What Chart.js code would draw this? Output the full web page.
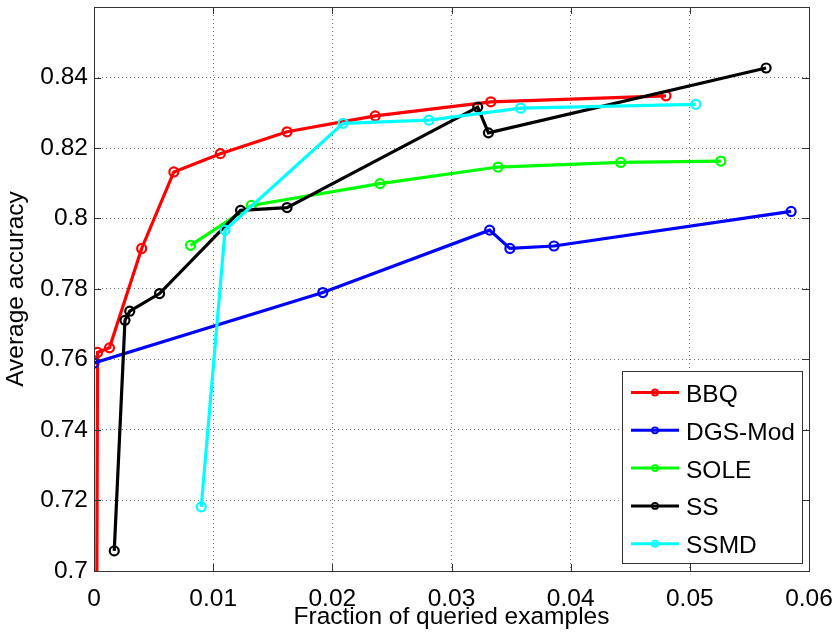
<!DOCTYPE html>
<html>
<head>
<meta charset="utf-8">
<script src="https://cdn.jsdelivr.net/npm/chart.js@4.4.1/dist/chart.umd.min.js"></script>
<style>
    html, body { margin: 0; padding: 0; background: #ffffff; }
    canvas { display: block; }
</style>
</head>
<body>
<canvas id="accuracy-graph" width="836" height="640"></canvas>
<script>
// series (x = fraction of queried examples, y = average accuracy)
const seriesNames = ["BBQ", "DGS-Mod", "SOLE", "SS", "SSMD"];
const seriesColors = ["#ff0000", "#0000ff", "#00ff00", "#000000", "#00ffff"];

const bbqX = [0.0002, 0.0003, 0.0013, 0.0040, 0.0067, 0.0106, 0.0162, 0.0236, 0.0333, 0.0480];
const bbqY = [0.660, 0.7620, 0.7633, 0.7915, 0.8132, 0.8184, 0.8246, 0.8291, 0.8331, 0.8348];

const dgsX = [0.0000, 0.0192, 0.0332, 0.0349, 0.0386, 0.0585];
const dgsY = [0.7590, 0.7790, 0.7967, 0.7915, 0.7922, 0.8020];

const soleX = [0.0081, 0.0132, 0.0240, 0.0339, 0.0442, 0.0526];
const soleY = [0.7924, 0.8037, 0.8099, 0.8146, 0.8159, 0.8163];

const ssX = [0.0017, 0.0026, 0.0030, 0.0055, 0.0123, 0.0162, 0.0322, 0.0331, 0.0564];
const ssY = [0.7057, 0.7711, 0.7737, 0.7787, 0.8023, 0.8031, 0.8316, 0.8243, 0.8427];

const ssmdX = [0.0090, 0.0110, 0.0209, 0.0281, 0.0358, 0.0505];
const ssmdY = [0.7182, 0.7967, 0.8270, 0.8279, 0.8313, 0.8324];

const xTicks = [0, 0.01, 0.02, 0.03, 0.04, 0.05, 0.06];
const yTicks = [0.7, 0.72, 0.74, 0.76, 0.78, 0.8, 0.82, 0.84];

const FONT = "'Liberation Sans', Arial, Helvetica, sans-serif";
const FONT_SIZE = 24.5;

function toPoints(xs, ys) {
    return xs.map((x, i) => ({ x: x, y: ys[i] }));
}

const allX = [bbqX, dgsX, soleX, ssX, ssmdX];
const allY = [bbqY, dgsY, soleY, ssY, ssmdY];

const datasets = seriesNames.map((name, i) => ({
    label: name,
    data: toPoints(allX[i], allY[i]),
    borderColor: seriesColors[i],
    borderWidth: 3.2,
    showLine: true,
    tension: 0,
    pointStyle: "circle",
    pointRadius: 4.5,
    pointBorderWidth: 2.2,
    pointBorderColor: seriesColors[i],
    pointBackgroundColor: "rgba(0,0,0,0)",
    order: seriesNames.length - 1 - i, // later series on top, like matlab
}));

// matlab style box with inward ticks
const boxPlugin = {
    id: "matlabBox",
    afterDatasetsDraw(chart) {
        const ctx = chart.ctx;
        const area = chart.chartArea;
        const xs = chart.scales.x;
        const ys = chart.scales.y;
        const tl = 7;
        ctx.save();
        ctx.strokeStyle = "#333333";
        ctx.lineWidth = 1;
        ctx.beginPath();
        xTicks.forEach((v) => {
            const px = Math.round(xs.getPixelForValue(v)) + 0.5;
            ctx.moveTo(px, area.bottom);
            ctx.lineTo(px, area.bottom - tl);
            ctx.moveTo(px, area.top);
            ctx.lineTo(px, area.top + tl);
        });
        yTicks.forEach((v) => {
            const py = Math.round(ys.getPixelForValue(v)) + 0.5;
            ctx.moveTo(area.left, py);
            ctx.lineTo(area.left + tl, py);
            ctx.moveTo(area.right, py);
            ctx.lineTo(area.right - tl, py);
        });
        ctx.stroke();
        ctx.strokeRect(Math.round(area.left) + 0.5, Math.round(area.top) + 0.5,
            Math.round(area.right - area.left), Math.round(area.bottom - area.top));
        ctx.restore();
    },
};

// legend box in the lower right corner
const legendPlugin = {
    id: "matlabLegend",
    afterDraw(chart) {
        const ctx = chart.ctx;
        const left = 622, top = 371, right = 802, bottom = 563;
        ctx.save();
        ctx.fillStyle = "#ffffff";
        ctx.fillRect(left, top, right - left, bottom - top);
        ctx.strokeStyle = "#333333";
        ctx.lineWidth = 1;
        ctx.strokeRect(left + 0.5, top + 0.5, right - left, bottom - top);
        ctx.font = FONT_SIZE + "px " + FONT;
        ctx.textAlign = "left";
        ctx.textBaseline = "alphabetic";
        seriesNames.forEach((name, i) => {
            const y = 392.5 + i * 37.8;
            ctx.strokeStyle = seriesColors[i];
            ctx.lineWidth = 3;
            ctx.beginPath();
            ctx.moveTo(631, y);
            ctx.lineTo(679, y);
            ctx.stroke();
            ctx.lineWidth = 1.8;
            ctx.beginPath();
            ctx.arc(655, y, 3, 0, Math.PI * 2);
            ctx.stroke();
            ctx.fillStyle = "#000000";
            ctx.fillText(name, 686, y + 9.5);
        });
        ctx.restore();
    },
};

const ctx = document.getElementById("accuracy-graph").getContext("2d");
window.accuracyGraph = new Chart(ctx, {
    type: "scatter",
    data: { datasets: datasets },
    options: {
        responsive: false,
        animation: false,
        devicePixelRatio: 1,
        layout: { padding: { top: 7, right: 27, left: 0, bottom: 0 } },
        plugins: {
            legend: { display: false },
            tooltip: { enabled: false },
        },
        scales: {
            x: {
                type: "linear",
                min: 0,
                max: 0.06,
                afterFit: (scale) => {
                    scale.height = 69;
                    scale.paddingLeft = 0;
                    scale.paddingRight = 0;
                },
                afterBuildTicks: (scale) => { scale.ticks = xTicks.map((v) => ({ value: v })); },
                grid: { color: "rgba(0,0,0,0.55)", drawTicks: false, lineWidth: 1 },
                border: { display: false, dash: [1, 3] },
                ticks: {
                    color: "#000000",
                    font: { family: FONT, size: FONT_SIZE },
                    padding: 14,
                    maxRotation: 0,
                    callback: (value) => String(Number(value.toFixed(2))),
                },
                title: {
                    display: true,
                    text: "Fraction of queried examples",
                    color: "#000000",
                    font: { family: FONT, size: FONT_SIZE },
                    padding: { top: 0, bottom: 8 },
                },
            },
            y: {
                type: "linear",
                min: 0.7,
                max: 0.86,
                afterFit: (scale) => {
                    scale.width = 94;
                    scale.paddingTop = 0;
                    scale.paddingBottom = 0;
                },
                afterBuildTicks: (scale) => { scale.ticks = yTicks.map((v) => ({ value: v })); },
                grid: { color: "rgba(0,0,0,0.55)", drawTicks: false, lineWidth: 1 },
                border: { display: false, dash: [1, 3] },
                ticks: {
                    color: "#000000",
                    font: { family: FONT, size: FONT_SIZE },
                    padding: 6,
                    callback: (value) => String(Number(value.toFixed(2))),
                },
                title: {
                    display: true,
                    text: "Average accuracy",
                    color: "#000000",
                    font: { family: FONT, size: FONT_SIZE },
                    padding: { top: 2, bottom: 0 },
                },
            },
        },
    },
    plugins: [boxPlugin, legendPlugin],
});
</script>
</body>
</html>
